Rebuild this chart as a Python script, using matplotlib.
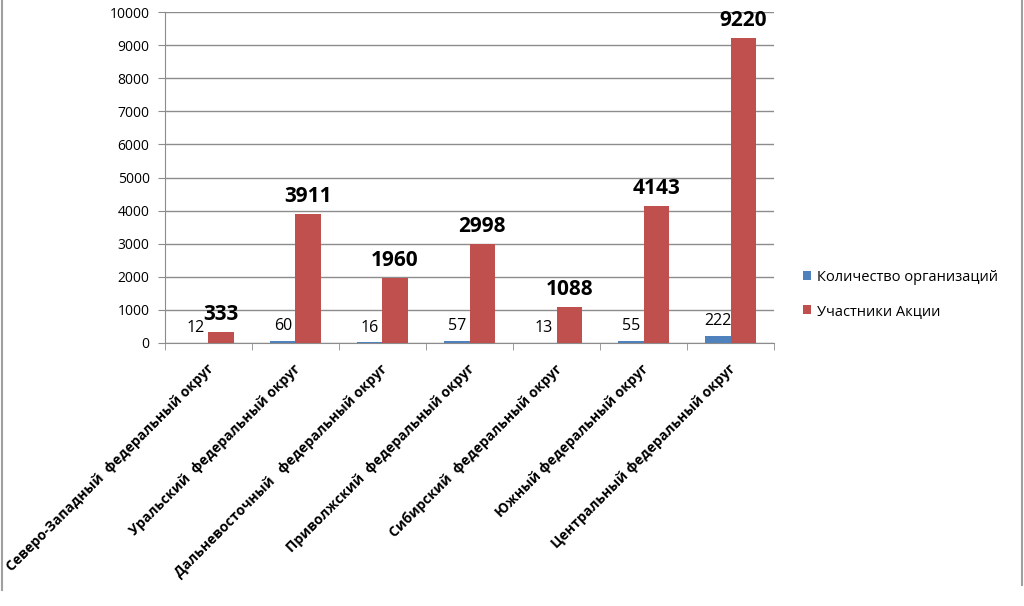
import matplotlib.pyplot as plt
from matplotlib.lines import Line2D
import matplotlib.transforms as mtransforms
import numpy as np

plt.rcParams['font.family'] = ['Open Sans', 'DejaVu Sans']

##############################################################################
# data
##############################################################################

okruga = ['Северо-Западный  федеральный округ',
          'Уральский  федеральный округ',
          'Дальневосточный   федеральный округ',
          'Приволжский  федеральный округ',
          'Сибирский  федеральный округ',
          'Южный федеральный округ',
          'Центральный федеральный округ']

org_count = [12, 60, 16, 57, 13, 55, 222]
participants = [333, 3911, 1960, 2998, 1088, 4143, 9220]

yticks = [0, 1000, 2000, 3000, 4000, 5000, 6000, 7000, 8000, 9000, 10000]

##############################################################################

blue = '#4F81BD'
red = '#C0504D'
grid_col = '#8C8C8C'

fig = plt.figure(figsize=(10.24, 6.06), dpi=100)
ax = fig.add_axes([0.161, 0.434, 0.595, 0.546])

x = np.arange(len(okruga))
w = 0.29

b1 = ax.bar(x - w/2, org_count, w, color=blue, label='Количество организаций', zorder=3)
b2 = ax.bar(x + w/2, participants, w, color=red, label='Участники Акции', zorder=3)

for rect, v in zip(b1, org_count):
    ax.annotate(str(v), (rect.get_x() + rect.get_width()/2, v),
                xytext=(0, 5), textcoords='offset points',
                ha='center', va='bottom', fontsize=11.5, color='black')

for rect, v in zip(b2, participants):
    ax.annotate(str(v), (rect.get_x() + rect.get_width()/2, v),
                xytext=(0, 5), textcoords='offset points',
                ha='center', va='bottom', fontsize=15, fontweight='bold', color='black')

ax.set_ylim(0, 10000)
ax.set_xlim(-0.5, len(okruga) - 0.5)
ax.set_yticks(yticks)
ax.tick_params(axis='y', length=5, color=grid_col, labelsize=10, pad=6)
ax.yaxis.grid(True, color=grid_col, linewidth=1, zorder=0)

ax.set_xticks(x)
ax.set_xticklabels(okruga, rotation=45, ha='right', va='center',
                   rotation_mode='anchor', fontsize=10, fontweight='bold')
ax.set_xticks(np.arange(-0.5, len(okruga)), minor=True)
ax.tick_params(axis='x', which='major', length=0, pad=17)
ax.tick_params(axis='x', which='minor', length=5, color=grid_col, direction='out')

shift = mtransforms.ScaledTranslation(3/100, 0, fig.dpi_scale_trans)
for lab in ax.get_xticklabels():
    lab.set_transform(lab.get_transform() + shift)

for s in ['top', 'right']:
    ax.spines[s].set_visible(False)
ax.spines['left'].set_color(grid_col)
ax.spines['bottom'].set_color(grid_col)

ax.legend(loc='center left', bbox_to_anchor=(1.025, 0.147), frameon=False,
          fontsize=10.5, handlelength=0.6, handleheight=0.6, handletextpad=0.4,
          labelspacing=1.3)

# image border lines
fig.add_artist(Line2D([0.002, 0.002], [1, 0.027], color='#A0A0A0', lw=1.5))
fig.add_artist(Line2D([0.998, 0.998], [1, 0.035], color='#A0A0A0', lw=1.5))

fig.savefig('out.png', dpi=100)
